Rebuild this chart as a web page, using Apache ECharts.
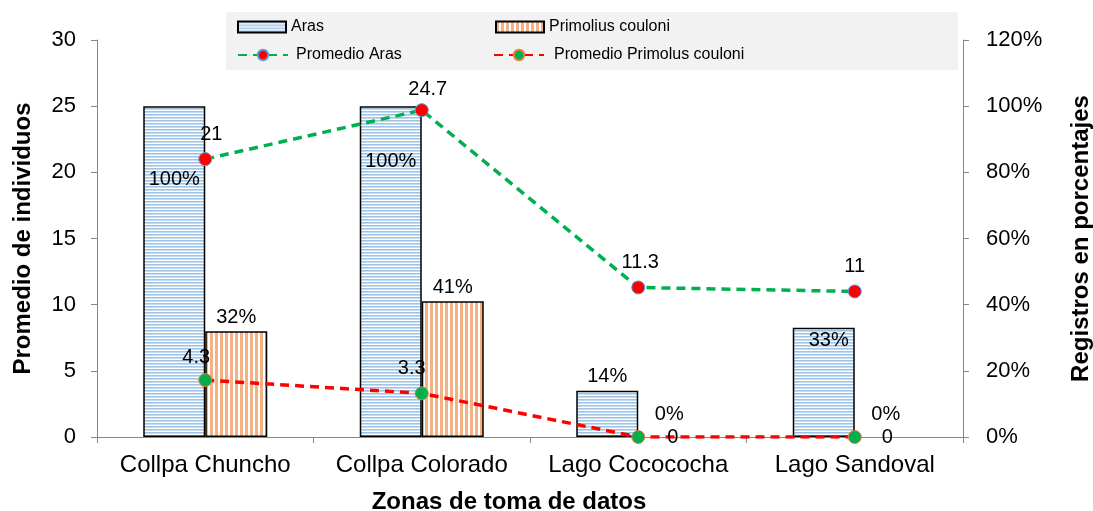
<!DOCTYPE html>
<html>
<head>
<meta charset="utf-8">
<script src="https://cdn.jsdelivr.net/npm/echarts@6/dist/echarts.min.js"></script>
<style>
  html, body { margin: 0; padding: 0; background: #fff; overflow: hidden; }
  #chart { width: 1093px; height: 511px; }
</style>
</head>
<body>
<div id="chart"></div>
<script>
// Zonas de muestreo
const zonas = ['Collpa Chuncho', 'Collpa Colorado', 'Lago Cocococha', 'Lago Sandoval'];

// Registros en porcentaje (eje derecho)
const arasPct = [100, 100, 14, 33];
const primoliusPct = [32, 41, 0, 0];

// Promedio de individuos (eje izquierdo)
const promedioAras = [21, 24.7, 11.3, 11];
const promedioPrimolius = [4.3, 3.3, 0, 0];

// Escalas de los ejes
const leftTicks = { min: 0, max: 30, interval: 5 };
const rightTicks = { min: 0, max: 120, interval: 20 };

// Colocación de cada etiqueta de dato
const arasLabelPlace = [
  { position: 'insideTop', distance: 63 },
  { position: 'insideTop', distance: 45 },
  { position: 'top', distance: 4 },
  { position: 'insideTop', distance: 3, offset: [5, 0] }
];
const primoliusLabelPlace = [
  { position: 'top', distance: 4 },
  { position: 'top', distance: 4 },
  { position: 'top', distance: 13 },
  { position: 'top', distance: 13 }
];
const promArasLabelPlace = [
  { position: 'top', distance: 8, offset: [6, 0] },
  { position: 'top', distance: 4, offset: [6, 0] },
  { position: 'top', distance: 8, offset: [2, 0] },
  { position: 'top', distance: 8 }
];
const promPrimLabelPlace = [
  { position: 'top', distance: 6, offset: [-9, 0] },
  { position: 'top', distance: 8, offset: [-10, 0] },
  { position: 'right', distance: 22 },
  { position: 'right', distance: 20 }
];

const FONT = '"Liberation Sans", Arial, sans-serif';
const AXIS_GREY = '#868686';

// Relleno rayado de las barras
function stripePattern(horizontal, color) {
  const c = document.createElement('canvas');
  if (horizontal) {
    c.width = 4; c.height = 3;
  } else {
    c.width = 5; c.height = 4;
  }
  const g = c.getContext('2d');
  g.fillStyle = '#ffffff';
  g.fillRect(0, 0, c.width, c.height);
  g.fillStyle = color;
  if (horizontal) g.fillRect(0, 0, c.width, 1.6);
  else g.fillRect(0, 0, 3, c.height);
  return { image: c, repeat: 'repeat' };
}

// Convierte valores en puntos con su etiqueta; las barras de valor cero no llevan borde
function withLabels(values, places, fmt, isBar) {
  return values.map((v, i) => {
    const item = {
      value: v,
      label: Object.assign({ show: true, formatter: fmt }, places[i])
    };
    if (isBar && v === 0) item.itemStyle = { borderWidth: 0 };
    return item;
  });
}

const labelText = { color: '#000', fontSize: 20, fontFamily: FONT };
const titleText = { fontSize: 24, fontWeight: 'bold', color: '#000', fontFamily: FONT };

const chart = echarts.init(document.getElementById('chart'), null, { renderer: 'canvas' });

const legendBase = {
  padding: 0,
  itemGap: 0,
  selectedMode: false,
  textStyle: { fontSize: 16, lineHeight: 16, color: '#000', fontFamily: FONT }
};

chart.setOption({
  animation: false,
  backgroundColor: '#ffffff',
  textStyle: { fontFamily: FONT },
  graphic: [{
    type: 'rect',
    z: -1,
    shape: { x: 226, y: 12, width: 732, height: 58 },
    style: { fill: '#f2f2f2' }
  }],
  legend: [
    Object.assign({}, legendBase, { data: [{ name: 'Aras', icon: 'rect' }], left: 237, top: 19, itemWidth: 48, itemHeight: 11 }),
    Object.assign({}, legendBase, { data: [{ name: 'Primolius couloni', icon: 'rect' }], left: 495, top: 19, itemWidth: 48, itemHeight: 11 }),
    Object.assign({}, legendBase, {
      data: ['Promedio Aras'], left: 237, top: 47, itemWidth: 50, itemHeight: 13,
      textStyle: Object.assign({}, legendBase.textStyle, { padding: [0, 0, 0, 3] })
    }),
    Object.assign({}, legendBase, {
      data: ['Promedio Primolus couloni'], left: 493, top: 47, itemWidth: 50, itemHeight: 13,
      textStyle: Object.assign({}, legendBase.textStyle, { padding: [0, 0, 0, 5] })
    })
  ],
  grid: { left: 97, right: 130, top: 40, bottom: 74, containLabel: false, outerBoundsMode: 'none' },
  xAxis: {
    type: 'category',
    data: zonas,
    boundaryGap: true,
    name: 'Zonas de toma de datos',
    nameLocation: 'middle',
    nameGap: 53,
    nameTextStyle: Object.assign({ padding: [0, 42, 0, 0] }, titleText),
    axisLine: { show: true, lineStyle: { color: AXIS_GREY, width: 1 } },
    axisTick: { show: true, length: 6, lineStyle: { color: AXIS_GREY } },
    axisLabel: { fontSize: 24, color: '#000', margin: 16, interval: 0, hideOverlap: false, fontFamily: FONT },
    splitLine: { show: false }
  },
  yAxis: [
    {
      type: 'value',
      position: 'left',
      min: leftTicks.min, max: leftTicks.max, interval: leftTicks.interval,
      name: 'Promedio de individuos',
      nameLocation: 'middle',
      nameRotate: 90,
      nameGap: 62,
      nameTextStyle: titleText,
      axisLine: { show: true, lineStyle: { color: AXIS_GREY, width: 1 } },
      axisTick: { show: true, length: 6, lineStyle: { color: AXIS_GREY } },
      axisLabel: { fontSize: 22, color: '#000', margin: 21, fontFamily: FONT },
      splitLine: { show: false }
    },
    {
      type: 'value',
      position: 'right',
      min: rightTicks.min, max: rightTicks.max, interval: rightTicks.interval,
      name: 'Registros en porcentajes',
      nameLocation: 'middle',
      nameRotate: 90,
      nameGap: 106,
      nameTextStyle: titleText,
      axisLine: { show: true, lineStyle: { color: AXIS_GREY, width: 1 } },
      axisTick: { show: true, length: 6, lineStyle: { color: AXIS_GREY } },
      axisLabel: { fontSize: 22, color: '#000', margin: 23, formatter: '{value}%', fontFamily: FONT },
      splitLine: { show: false }
    }
  ],
  series: [
    {
      name: 'Aras',
      type: 'bar',
      yAxisIndex: 1,
      barWidth: 62,
      barGap: '0%',
      itemStyle: { color: stripePattern(true, '#9dc3e6'), borderColor: '#000', borderWidth: 1.5 },
      label: labelText,
      data: withLabels(arasPct, arasLabelPlace, '{c}%', true)
    },
    {
      name: 'Primolius couloni',
      type: 'bar',
      yAxisIndex: 1,
      barWidth: 62,
      barGap: '0%',
      itemStyle: { color: stripePattern(false, '#f4b183'), borderColor: '#000', borderWidth: 1.5 },
      label: labelText,
      data: withLabels(primoliusPct, primoliusLabelPlace, '{c}%', true)
    },
    {
      name: 'Promedio Aras',
      type: 'line',
      yAxisIndex: 0,
      symbol: 'circle',
      symbolSize: 13,
      z: 5,
      lineStyle: { color: '#00b050', width: 3.5, type: [9, 6] },
      itemStyle: { color: '#ff0000', borderColor: '#5b9bd5', borderWidth: 1 },
      label: labelText,
      data: withLabels(promedioAras, promArasLabelPlace, '{c}', false)
    },
    {
      name: 'Promedio Primolus couloni',
      type: 'line',
      yAxisIndex: 0,
      symbol: 'circle',
      symbolSize: 13,
      z: 5,
      lineStyle: { color: '#ff0000', width: 3.5, type: [9, 6] },
      itemStyle: { color: '#00b050', borderColor: '#ed7d31', borderWidth: 1 },
      label: labelText,
      data: withLabels(promedioPrimolius, promPrimLabelPlace, '{c}', false)
    }
  ]
});
</script>
</body>
</html>
